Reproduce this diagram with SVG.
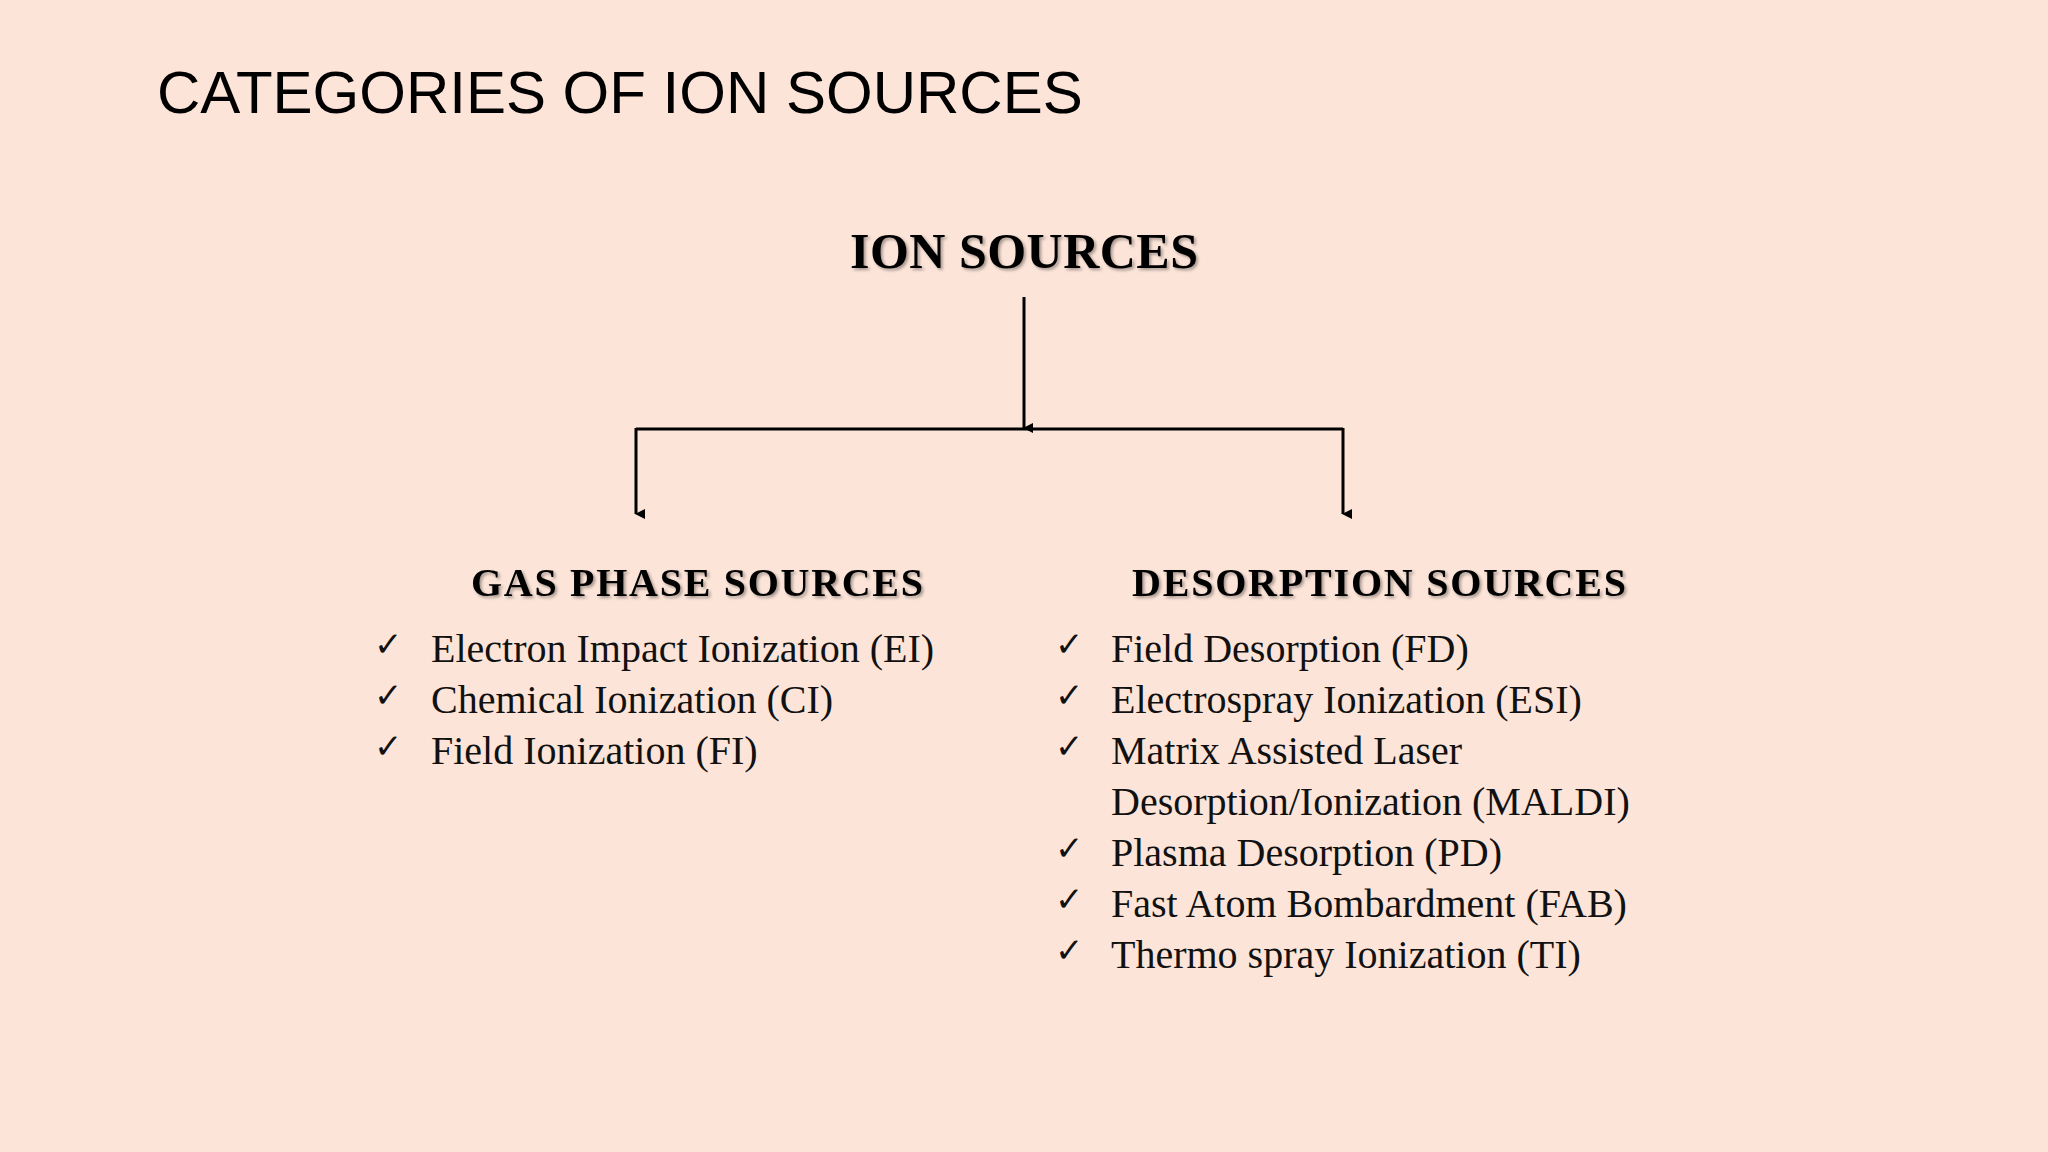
<svg xmlns="http://www.w3.org/2000/svg" width="2048" height="1152" viewBox="0 0 2048 1152">
<style>
.t{font-family:"Liberation Serif",serif;font-size:40px;fill:#111}
.h{font-family:"Liberation Serif",serif;font-weight:bold;fill:#000}
.c{font-family:"DejaVu Sans",sans-serif;font-size:34px;fill:#111}
.ln{stroke:#000;stroke-width:3;fill:none}
</style>
<defs>
<filter id="sh"><feDropShadow dx="2" dy="2" stdDeviation="1.5" flood-color="#000" flood-opacity="0.35"/></filter>
<marker id="ar" markerWidth="10" markerHeight="10" refX="5" refY="9" orient="auto" markerUnits="userSpaceOnUse" viewBox="0 0 10 10"><path d="M0,0 L10,0 L5,10 z" fill="#000" transform="rotate(-90 5 5) rotate(90 5 5)"/></marker>
</defs>
<rect width="2048" height="1152" fill="#FCE4D8"/>
<text x="157" y="113" font-family="Liberation Sans, sans-serif" font-size="60" fill="#000">CATEGORIES OF ION SOURCES</text>
<g id="root"><text class="h" x="850" y="268" font-size="50" textLength="348" filter="url(#sh)">ION SOURCES</text></g>
<g id="connectors">
<path class="ln" d="M1024,297 V428" marker-end="url(#ar)"/>
<path class="ln" d="M636,429 H1343"/>
<path class="ln" d="M636,428 V514" marker-end="url(#ar)"/>
<path class="ln" d="M1343,428 V514" marker-end="url(#ar)"/>
</g>
<g id="gas">
<text class="h" x="471" y="596" font-size="40" textLength="452" filter="url(#sh)">GAS PHASE SOURCES</text>
<text class="c" x="374" y="656">✓</text><text class="t" x="431" y="662">Electron Impact Ionization (EI)</text>
<text class="c" x="374" y="707">✓</text><text class="t" x="431" y="713">Chemical Ionization (CI)</text>
<text class="c" x="374" y="758">✓</text><text class="t" x="431" y="764">Field Ionization (FI)</text>
</g>
<g id="desorption">
<text class="h" x="1132" y="596" font-size="40" textLength="494" filter="url(#sh)">DESORPTION SOURCES</text>
<text class="c" x="1055" y="656">✓</text><text class="t" x="1111" y="662">Field Desorption (FD)</text>
<text class="c" x="1055" y="707">✓</text><text class="t" x="1111" y="713">Electrospray Ionization (ESI)</text>
<text class="c" x="1055" y="758">✓</text><text class="t" x="1111" y="764">Matrix Assisted Laser</text>
<text class="t" x="1111" y="815">Desorption/Ionization (MALDI)</text>
<text class="c" x="1055" y="860">✓</text><text class="t" x="1111" y="866">Plasma Desorption (PD)</text>
<text class="c" x="1055" y="911">✓</text><text class="t" x="1111" y="917">Fast Atom Bombardment (FAB)</text>
<text class="c" x="1055" y="962">✓</text><text class="t" x="1111" y="968">Thermo spray Ionization (TI)</text>
</g>
</svg>
